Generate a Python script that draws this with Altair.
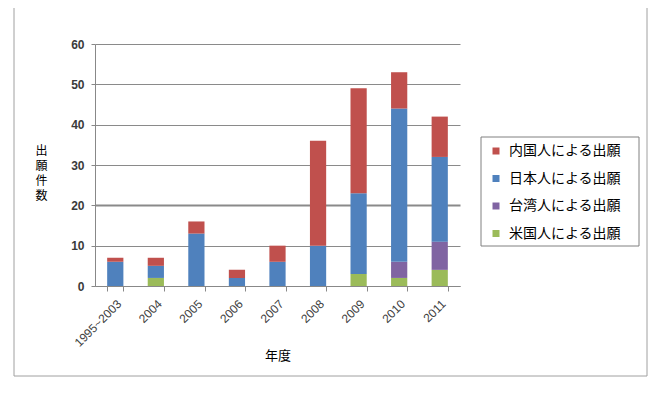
import altair as alt
import pandas as pd

years = ["1995~2003", "2004", "2005", "2006", "2007", "2008", "2009", "2010", "2011"]
series = ["内国人による出願", "日本人による出願", "台湾人による出願", "米国人による出願"]
colors = ["#C0504D", "#4F81BD", "#8064A2", "#9BBB59"]
naikoku = [1, 2, 3, 2, 4, 26, 26, 9, 10]
nihon = [6, 3, 13, 2, 6, 10, 20, 38, 21]
taiwan = [0, 0, 0, 0, 0, 0, 0, 4, 7]
beikoku = [0, 2, 0, 0, 0, 0, 3, 2, 4]

rows = []
for vals, name, order in [(beikoku, series[3], 0), (taiwan, series[2], 1), (nihon, series[1], 2), (naikoku, series[0], 3)]:
    for y, v in zip(years, vals):
        rows.append({"year": y, "series": name, "value": v, "order": order})
df = pd.DataFrame(rows)

font = "Noto Sans CJK JP"

bars = alt.Chart(df).mark_bar().encode(
    x=alt.X("year:N", sort=years,
            scale=alt.Scale(paddingInner=0.6, paddingOuter=0.3),
            axis=alt.Axis(title="年度", labelAngle=-45, labelAlign="right", labelBaseline="top",
                          labelFont="Liberation Sans", labelFontSize=12, labelColor="#404040",
                          labelPadding=7, tickBand="extent", tickSize=5, tickColor="#888888",
                          domainColor="#888888", titleFont=font, titleFontSize=13,
                          titleFontWeight="normal", titleColor="#000000",
                          titleY=69, titleBaseline="middle")),
    y=alt.Y("value:Q", stack="zero", scale=alt.Scale(domain=[0, 60]),
            axis=alt.Axis(values=[0, 10, 20, 30, 40, 50, 60], title=["出", "願", "件", "数"],
                          titleAngle=0, titleX=-54, titleY=101, titleAlign="center",
                          titleBaseline="top", titleLineHeight=15, titleFont=font,
                          titleFontSize=12, titleFontWeight="normal", titleColor="#000000",
                          labelFont="Liberation Sans", labelFontSize=12, labelFontWeight="bold",
                          labelColor="#3a3a3a", labelPadding=7, tickSize=4,
                          tickColor="#888888", domainColor="#888888",
                          gridColor="#8a8a8a",
                          gridWidth=alt.condition("datum.value == 20", alt.value(2), alt.value(1)))),
    color=alt.Color("series:N", scale=alt.Scale(domain=series, range=colors),
                    legend=alt.Legend(title=None, orient="none", legendX=394, legendY=100,
                                      symbolType="square", symbolSize=49, symbolStrokeWidth=0,
                                      labelFont=font, labelFontSize=14, labelColor="#000000",
                                      labelOffset=6, rowPadding=13.5, padding=0,
                                      labelLimit=240)),
    order=alt.Order("order:Q", sort="ascending"),
)

one = pd.DataFrame({"a": [0]})
frame = alt.Chart(one).mark_rect(fill=None, stroke="#a0a0a0", strokeWidth=1).encode(
    x=alt.value(-81), x2=alt.value(552), y=alt.value(-38), y2=alt.value(332)
)
legend_box = alt.Chart(one).mark_rect(fill="#ffffff", stroke="#808080", strokeWidth=1).encode(
    x=alt.value(386), x2=alt.value(544), y=alt.value(93), y2=alt.value(202)
)

chart = alt.layer(frame, legend_box, bars).properties(
    width=365, height=242,
    padding={"left": 87, "top": 36, "right": 190, "bottom": 94},
    autosize=alt.AutoSizeParams(type="none"),
).configure_view(stroke=None)

chart.save("out.html", embed_options={"renderer": "svg", "actions": False})
